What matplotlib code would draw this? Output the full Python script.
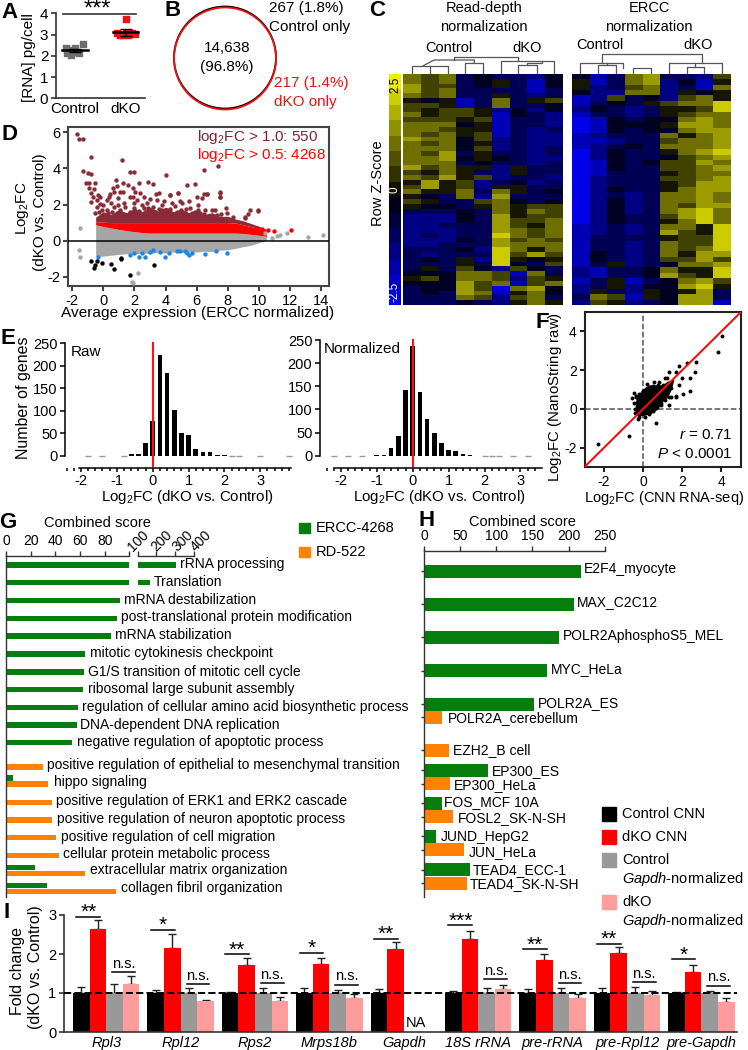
import numpy as np
import matplotlib
matplotlib.use('Agg')
import matplotlib.pyplot as plt
from matplotlib.colors import LinearSegmentedColormap
from matplotlib.patches import Circle, Rectangle
from matplotlib.ticker import MultipleLocator

plt.rcParams['font.family'] = ['Liberation Sans', 'DejaVu Sans']
plt.rcParams['mathtext.fontset'] = 'custom'
plt.rcParams['mathtext.rm'] = 'Liberation Sans'
plt.rcParams['mathtext.it'] = 'Liberation Sans:italic'
plt.rcParams['mathtext.default'] = 'regular'
plt.rcParams['font.size'] = 10.5
plt.rcParams['axes.unicode_minus'] = False

W, H = 748, 1050
GREEN = '#067d0c'
ORANGE = '#ff8205'
DARK = '#333333'

# --- A
a_ctl_x = [-.18, -.16, -.07, 0, .07, .16, -.13, -.03]
a_ctl_y = [2.35, 2.12, 2.04, 2.35, 2.12, 2.54, 2.27, 2.2]
a_dko_x = [1, .82, .89, .95, 1.05, 1.12, 1.18, 1]
a_dko_y = [3.72, 3.06, 2.98, 2.98, 2.98, 3.06, 3.03, 3.09]
a_means = [2.25, 3.1]
a_errs = [.08, .15]

# --- C heatmaps, one digit per cell: 0 = z -2.5 ... 9 = z +2.5
c_read_depth = [
    "767343324", "767345314", "866345314", "867333313", "767335323", "545137356",
    "665137334", "656652424", "756651432", "666561332", "777451332", "776551323",
    "767561322", "877462322", "767452322", "777462323", "768353323", "778454322",
    "777343323", "867552533", "657532533", "768562332", "585623423", "685625533",
    "755737534", "543728333", "653367434", "544357566", "333437576", "222438566",
    "222438667", "223338657", "222338767", "232339767", "222438676", "223338777",
    "333429757", "323339686", "343529545", "333539436", "353642643", "444776173",
    "564776265", "444867167", "344860784", "343871574", "333762673", "333432575",
]
c_ercc = [
    "413783326", "513782415", "523672317", "422772545", "126342675", "134356779",
    "243235569", "133235677", "014344787", "014445887", "014344788", "123337578",
    "112336778", "123437778", "024335789", "024334678", "014346687", "014336678",
    "013335677", "023336678", "023335688", "024335788", "023237787", "024237787",
    "024237688", "024237897", "024336897", "024335797", "123237759", "123238659",
    "133335669", "133237669", "133237679", "143237588", "143236686", "135234778",
    "213347559", "213348659", "135134786", "235244895", "253254583", "376154883",
    "265234881",
]

# --- D dense bands plus the points that stand clear of them
d_band_x = [-.5, 0, .5, 1, 1.5, 2, 2.5, 3, 3.5, 4, 4.5, 5, 5.5, 6, 6.5, 7, 7.5, 8, 8.5, 9, 9.5, 10, 10.5]
d_maroon_top = [1.3, 1.6, 1.45, 1.7, 1.55, 1.8, 1.6, 1.85, 1.65, 1.85, 1.6, 1.75, 1.55, 1.65, 1.45, 1.55, 1.35, 1.35, 1.2, 1.1, .95, .8, .62]
d_red_top = [1.05, 1.02, 1, 1, 1, 1, 1, 1, 1, 1, 1, 1, 1, 1, 1, 1, 1, 1, .98, .88, .78, .68, .5]
d_red_bot = [.88, .78, .7, .62, .55, .5, .45, .42, .42, .42, .42, .42, .42, .42, .42, .42, .42, .42, .42, .4, .35, .3, .25]
d_gray_bot = [-.85, -.85, -.8, -.75, -.72, -.72, -.68, -.7, -.65, -.68, -.62, -.65, -.6, -.62, -.58, -.6, -.52, -.5, -.42, -.33, -.25, -.12, .08]
d_maroon = [
    (-1.72, 5.88), (-1.55, 5.6), (-1.33, 5.62), (-1.33, 3.84), (-1, 3.75), (-.78, 3.7), (-.82, 4.6), (1.2, 4.47),
    (-1.14, 3.2), (-.9, 3.2), (-.56, 3.2), (-.9, 2.9), (-.82, 2.65), (-.6, 2.85), (-.65, 2.43), (-.43, 2.25),
    (-.2, 2.4), (.8, 3.38), (1.7, 3.8), (2, 3.8), (4, 3.65), (6.5, 3.9), (7.4, 4.1), (2.85, 3.25), (2.27, 3.2),
    (1.28, 3.2), (.9, 3), (1.6, 3.07), (1.9, 2.9), (.63, 2.9), (3.2, 3.12), (.4, 2.6), (5.4, 3.07), (5.9, 3.16),
    (6, 2.4), (6.5, 2.6), (6.65, 2.57), (7.5, 2.7), (7.5, 2.4), (4.8, 2.65), (4.3, 2.5), (3.4, 2.6), (2.6, 2.4),
    (1.9, 2.4), (1.07, 2.7), (-.81, 2.16), (-.42, 1.88), (-.53, 1.51), (-.1, 1.7), (0, 1.97), (.22, 2.25),
    (.48, 2.06), (.65, 1.88), (.54, 1.61), (.86, 1.51), (1.08, 1.7), (1.4, 1.88), (1.72, 2.43), (1.94, 2.06),
    (2.15, 2.25), (2.47, 1.97), (2.69, 1.61), (2.9, 1.79), (3.22, 1.88), (3.48, 2.25), (3.76, 1.97), (4.08, 1.7),
    (4.41, 2.06), (4.73, 1.61), (5.05, 2.06), (5.26, 1.51), (5.59, 1.79), (5.91, 1.61), (6.23, 1.51), (6.55, 1.7),
    (6.98, 1.7), (7.3, 1.42), (7.56, 1.48), (7.9, 1.79), (7.95, 1.51), (8.37, 1.33), (9.13, 1.24), (9.45, 1.7),
    (9.98, 1.7), (2.37, 2.62), (2.04, 2.71), (3.55, 2.62), (4.3, 2.52), (4.83, 2.62), (6.34, 2.34), (6.66, 2.58),
    (7.52, 2.62), (7.52, 2.43), (.97, 2.34), (1.29, 2.71), (.65, 2.71), (.33, 2.43), (-.32, 2.52), (1.51, 1.42),
    (1.83, 1.42), (3.12, 1.42), (3.76, 1.42), (4.3, 1.42), (4.94, 1.37), (5.59, 1.42), (6.12, 1.37), (6.77, 1.37),
    (7.09, 1.33), (0, 1.42), (.33, 1.33), (.86, 1.29), (1.29, 1.29), (2.26, 1.33), (2.69, 1.33), (3.44, 1.33),
    (1.1, 1.55), (1.7, 1.6), (2.3, 1.65), (2.6, 1.8), (3, 1.55), (3.3, 1.6), (3.6, 1.75), (4, 1.5), (4.3, 1.75),
    (4.6, 1.9), (5, 1.7), (5.3, 1.75), (5.7, 1.55), (6.1, 1.7), (6.5, 1.5), (7.2, 1.7), (1.3, 2.1), (2.8, 2.1),
    (3, 2.3), (3.9, 2.2), (4.9, 2.2), (5.5, 2.2), (6.1, 2), (.2, 1.7), (.3, 1.55), (-.2, 2.05), (-.3, 1.6),
    (.95, 2), (2, 1.8), (3.8, 1.7), (9.3, 1.47), (9.97, 1.65), (9.1, 1.3),
]
d_red = [(10.6, .59), (11, .53), (12.1, .59), (10.2, .62), (9.87, .68)]
d_gray = [(-1.5, .68), (-1.55, -.5), (-1.5, -.88), (2.25, -1.8), (1.82, -2.26), (1.93, -2.35), (11.37, .31), (11.8, .4),
          (11.15, .26), (13.2, .18), (14.16, .31), (10.83, .13), (10.4, .4)]
d_blue = [(-.32, -.88), (1.68, -.78), (1.94, -.69), (2.26, -.88), (2.47, -.69), (2.69, -.88), (3.01, -.6), (3.18, -.51),
          (3.65, -.6), (3.98, -.88), (4.19, -.66), (4.73, -.55), (4.94, -.56), (5.26, -.55), (5.37, -.69), (5.48, -.78),
          (5.69, -.69), (6.55, -.73), (7.24, -.56), (7.95, -.66)]
d_black = [(-.79, -1.1), (-.42, -1.1), (-.1, -1.24), (-.53, -1.34), (-.6, -1.52), (.48, -1.28), (.69, -1.58), (1.12, -.97),
           (1.14, -1.02), (3.27, -1.34), (1.68, -1.89)]

# --- E histograms
e_bins = [-1, -.8, -.6, -.4, -.2, 0, .2, .4, .6, .8, 1, 1.2, 1.4, 1.6, 1.8, 2]
e_raw = [0, 0, 3, 3, 29, 78, 224, 183, 102, 50, 46, 15, 8, 8, 1, 1]
e_norm = [1, 2, 16, 42, 141, 237, 138, 80, 49, 28, 12, 10, 4, 2, 0, 0]
e_raw_empty = [-1.8, -1.4, -.8, 2.2, 2.4, 3, 3.8]
e_norm_empty = [-2.2, -1.8, -1.4, 2, 2.2, 2.4, 2.8, 3.2]

# --- F scatter, central cloud as an outline
f_cloud_x = [-.38, -.32, 0, .35, 1, 1.25, 1.6, 1.45, 1.25, .95, .75, .4, -.03, -.36, -.38]
f_cloud_y = [.25, .6, 1, 1.22, 1.22, 1.4, 1.5, .95, .55, .3, -.05, -.28, -.38, -.36, -.03]
f_pts_x = [-2.33, -.71, .68, 3.84, 4.05, 2.69, 2.26, 1.84, 1.33, 1.67, 2.65, 2.38, 1.97, 2.38, 2.04, 1.7, 1.33, .9, .56, .82,
           .22, -.58, -.46, -.37, 1.84, 1.41, 1.24, 1.12, -.41, -.24, 1.33, 1.19,
           0, .2, .5, .75, 1, 1.2, 1.4, 1.7, 1.1, .9, .7, .5, .3, .1, -.2, -.4, -.45, -.35, -.2]
f_pts_y = [-1.82, -1.39, -.75, 2.91, 3.74, 2.43, 2.35, 2.21, 1.92, 1.92, 1.92, 1.58, 1.58, .94, .77, .6, .22, .22, 1.41, 1.41,
           1.29, .56, .82, .68, 1.24, 1.07, 1.58, 1.58, -.2, -.51, .61, .99,
           .9, 1.1, 1.2, 1.25, 1.25, .9, .6, .65, .45, .3, .1, -.1, -.25, -.4, -.4, 0, .3, .6, .75]

# --- G
g_terms = ['rRNA processing', 'Translation', 'mRNA destabilization', 'post-translational protein modification',
           'mRNA stabilization', 'mitotic cytokinesis checkpoint', 'G1/S transition of mitotic cell cycle',
           'ribosomal large subunit assembly', 'regulation of cellular amino acid biosynthetic process',
           'DNA-dependent DNA replication', 'negative regulation of apoptotic process',
           'positive regulation of epithelial to mesenchymal transition', 'hippo signaling',
           'positive regulation of ERK1 and ERK2 cascade', 'positive regulation of neuron apoptotic process',
           'positive regulation of cell migration', 'cellular protein metabolic process',
           'extracellular matrix organization', 'collagen fibril organization']
g_green = [304, 167, 92.5, 90.3, 84.9, 64, 63.5, 62.7, 58.1, 57.3, 53.5, 0, 5.4, 0, 0, 0, 0, 23.5, 33]
g_orange = [0, 0, 0, 0, 0, 0, 0, 0, 0, 0, 0, 29.7, 34.3, 37.6, 37.6, 40.5, 42.7, 64, 89]
g_green_y = [565, 582.7, 600.3, 618.3, 636, 654, 672, 689.7, 707.3, 725, 742.7, 0, 778, 0, 0, 0, 0, 867.7, 885.7]
g_orange_y = [0, 0, 0, 0, 0, 0, 0, 0, 0, 0, 0, 767, 784, 802.3, 820, 837.7, 855.7, 873.3, 891.7]
g_label_x = [180, 153.7, 124, 121, 115, 90, 88, 87.7, 82.3, 80, 76.7, 47.3, 53.7, 56, 57.3, 61, 62.7, 90, 121]
g_label_y = [564, 582, 600, 617.5, 635, 653.5, 672, 689.5, 707, 724.5, 742, 765, 782, 800.7, 819, 836.7, 854, 870.3, 888]

# --- H
h_terms = ['E2F4_myocyte', 'MAX_C2C12', 'POLR2AphosphoS5_MEL', 'MYC_HeLa', 'POLR2A_ES', 'POLR2A_cerebellum', 'EZH2_B cell',
           'EP300_ES', 'EP300_HeLa', 'FOS_MCF 10A', 'FOSL2_SK-N-SH', 'JUND_HepG2', 'JUN_HeLa', 'TEAD4_ECC-1', 'TEAD4_SK-N-SH']
h_scores = [216.7, 208, 187, 170, 152.6, 24.4, 35, 89, 36, 24.4, 40.6, 16.6, 55.8, 64, 60]
h_is_green = [1, 1, 1, 1, 1, 0, 0, 1, 0, 1, 0, 1, 0, 1, 0]
h_y = [571, 604.3, 637.3, 670.7, 704, 717, 750.3, 770, 783.7, 803.3, 816.7, 836.3, 849.7, 869.7, 883.3]
h_label_x = [584.3, 577.3, 563.3, 551.3, 538.3, 447.7, 453.3, 491.7, 454.3, 444.3, 457.7, 440.7, 468.3, 472.3, 470]
h_label_y = [569, 602.3, 635.7, 669, 703.3, 718.3, 750, 770.7, 785, 802.3, 817.7, 837.3, 852.3, 869.7, 884.3]

# --- I
i_genes = ['Rpl3', 'Rpl12', 'Rps2', 'Mrps18b', 'Gapdh', '18S rRNA', 'pre-rRNA', 'pre-Rpl12', 'pre-Gapdh']
i_ctl = [1, 1, 1, 1, 1, 1, 1, 1, 1]
i_ctl_err = [.16, .07, .03, .14, .09, .06, .09, .13, .03]
i_dko = [2.63, 2.16, 1.72, 1.74, 2.12, 2.38, 1.85, 2.02, 1.55]
i_dko_err = [.25, .36, .18, .16, .19, .21, .15, .17, .17]
i_gctl = [1, 1, 1, 1, 0, 1, 1, 1, 1]
i_gctl_err = [.22, .14, .14, .08, 0, .12, .14, .15, .05]
i_gdko = [1.23, .8, .8, .86, 0, 1.1, .86, .96, .77]
i_gdko_err = [.2, .03, .09, .12, 0, .1, .12, .1, .1]
i_stars = ['**', '*', '**', '*', '**', '***', '**', '**', '*']
i_star_y = [2.96, 2.62, 2.0, 2.03, 2.39, 2.74, 2.12, 2.26, 1.86]
i_ns_y = [1.53, 1.23, 1.26, 1.21, 0, 1.35, 1.25, 1.28, 1.19]

fig = plt.figure(figsize=(W / 100, H / 100), dpi=100)


def axpx(l, t, r, b):
    return fig.add_axes([l / W, 1 - b / H, (r - l) / W, (b - t) / H])


# pixel overlay for lettering and the venn
ov = fig.add_axes([0, 0, 1, 1], zorder=10)
ov.set_xlim(0, W)
ov.set_ylim(H, 0)
ov.axis('off')


def tx(x, y, s, **kw):
    kw.setdefault('ha', 'center')
    kw.setdefault('va', 'center')
    return ov.text(x, y, s, **kw)


def spines(ax, which, color=DARK, lw=1.2):
    for k, sp in ax.spines.items():
        sp.set_visible(k in which)
        sp.set_color(color)
        sp.set_linewidth(lw)
    ax.tick_params(color=color, width=lw, length=3.5, pad=2)


for x, y, s in [(10, 13, 'A'), (173, 11, 'B'), (377, 11, 'C'), (10, 135, 'D'), (8, 338, 'E'), (542, 323, 'F'),
                (8, 523, 'G'), (427, 521, 'H'), (7, 913, 'I')]:
    tx(x, y, s, fontsize=16, fontweight='bold')

# A
ax = axpx(56, 13.3, 145, 98.3)
ax.set_xlim(-.375, 1.38)
ax.set_ylim(0, 4)
spines(ax, ['left', 'bottom'])
ax.scatter(a_ctl_x, a_ctl_y, marker='s', s=17, color='#6e6e6e', zorder=2)
ax.scatter(a_dko_x, a_dko_y, marker='s', s=17, color='#ee1111', zorder=2)
for i in range(2):
    ax.plot([i - .25, i + .25], [a_means[i], a_means[i]], color='k', lw=1.8, zorder=3)
    ax.errorbar(i, a_means[i], yerr=a_errs[i], color='k', capsize=4, lw=1.2, zorder=3)
ax.set_xticks([0, 1])
ax.set_xticklabels(['Control', 'dKO'], fontsize=11)
ax.set_yticks(range(5))
ax.tick_params(axis='x', length=0, pad=3)
ax.tick_params(axis='y', labelsize=11)
ax.patch.set_alpha(0)
tx(29, 58, '[RNA] pg/cell', rotation=90, fontsize=11)
ov.plot([63, 136], [14, 14], color=DARK, lw=1.2)
tx(97, 10, '***', fontsize=17)

# B
ov.add_patch(Circle((225, 57.5), 51, fill=False, ec='k', lw=1.3))
ov.add_patch(Circle((225, 58.5), 51, fill=False, ec='#ee1111', lw=1.3))
tx(227, 48, '14,638', fontsize=11)
tx(227, 67, '(96.8%)', fontsize=11)
tx(269, 8, '267 (1.8%)', ha='left', fontsize=11)
tx(269, 27, 'Control only', ha='left', fontsize=11)
tx(274, 83, '217 (1.4%)', ha='left', color='#ee1111', fontsize=11)
tx(274, 102, 'dKO only', ha='left', color='#ee1111', fontsize=11)

# C
cmap = LinearSegmentedColormap.from_list('zscore', [(0, '#0000e8'), (.45, '#00000f'), (.5, '#111100'), (1, '#eeee00')])
for rows, l, r in [(c_read_depth, 403, 563), (c_ercc, 572, 731)]:
    ax = axpx(l, 74, r, 305)
    grid = np.array([[int(ch) for ch in row] for row in rows])
    # yellow end of the scale stays muted in the cells, only the colour bar reaches it
    ax.imshow(grid, cmap=cmap, vmin=0, vmax=9.8, aspect='auto', interpolation='nearest')
    ax.axis('off')
ax = axpx(389, 74, 401, 305)
ax.imshow(np.linspace(9, 0, 15)[:, None], cmap=cmap, vmin=0, vmax=9, aspect='auto', interpolation='nearest')
ax.axis('off')
tx(395, 85, '2.5', rotation=90, fontsize=8.5, color='k')
tx(395, 190, '0', rotation=90, fontsize=8.5, color='w')
tx(395, 292, '-2.5', rotation=90, fontsize=8.5, color='w')
tx(378, 183, 'Row Z-Score', rotation=90, fontsize=10.5)
tx(484, 8, 'Read-depth', fontsize=10.5)
tx(484, 27, 'normalization', fontsize=10.5)
tx(649, 8, 'ERCC', fontsize=10.5)
tx(649, 27, 'normalization', fontsize=10.5)
tx(449, 48, 'Control', fontsize=10.5)
tx(527, 48, 'dKO', fontsize=10.5)
tx(600, 45, 'Control', fontsize=10.5)
tx(698, 45, 'dKO', fontsize=10.5)
tree_left = [[(156, 218), (156, 197), (210, 197), (210, 218)], [(210, 197), (265, 197), (265, 218)],
             [(190, 197), (222, 180), (343, 180), (343, 188)], [(316, 218), (316, 188), (370, 188), (370, 218)],
             [(283, 180), (283, 170), (475, 170), (475, 183)], [(422, 218), (422, 183), (583, 183), (583, 218)],
             [(475, 218), (475, 195), (530, 195), (530, 218)], [(502, 195), (502, 188), (545, 188), (545, 183)]]
tree_right = [[(660, 218), (660, 188), (790, 188), (790, 203)], [(714, 218), (714, 195), (768, 195), (768, 218)],
              [(820, 218), (820, 203), (873, 203), (873, 218)], [(726, 188), (726, 162), (1025, 162), (1025, 190)],
              [(926, 218), (926, 190), (1085, 190), (1085, 218)], [(980, 218), (980, 202), (1033, 202), (1033, 218)],
              [(1005, 202), (1005, 190)], [(741, 195), (741, 188)]]
for seg in tree_left + tree_right:
    ov.plot([360 + p[0] / 3 for p in seg], [p[1] / 3 for p in seg], color='#555555', lw=.9)

# D
ax = axpx(68, 127, 329, 286)
ax.set_xlim(-2.28, 14.52)
ax.set_ylim(-2.5, 6.28)
spines(ax, ['left', 'bottom', 'right', 'top'], color='#444444', lw=1.5)
ax.fill_between(d_band_x, d_red_top, d_maroon_top, color='#8a2b38', lw=0, zorder=2)
ax.fill_between(d_band_x, d_red_bot, d_red_top, color='#ff0000', lw=0, zorder=3)
ax.fill_between(d_band_x, d_gray_bot, d_red_bot, color='#a6a6a6', lw=0, zorder=2)
for pts, col in [(d_maroon, '#8a2b38'), (d_red, '#ff0000'), (d_gray, '#a6a6a6'), (d_blue, '#1a86e8'), (d_black, 'k')]:
    ax.scatter([p[0] for p in pts], [p[1] for p in pts], s=10, color=col, lw=0, zorder=4)
ax.axhline(0, color='k', lw=1.1, zorder=5)
ax.set_xticks(range(-2, 15, 2))
ax.set_yticks([-2, 0, 2, 4, 6])
tx(197, 137, 'log$_2$FC > 1.0: 550', ha='left', color='#7c2530', fontsize=11)
tx(197, 155, 'log$_2$FC > 0.5: 4268', ha='left', color='#ff0000', fontsize=11)
tx(23, 208, 'Log$_2$FC', rotation=90, fontsize=11)
tx(40, 212, '(dKO vs. Control)', rotation=90, fontsize=11)
tx(198, 313, 'Average expression (ERCC normalized)', fontsize=11.1)


# E
def hist_panel(l, axis_r, top, px_per, zero_px, ruler_l, ruler_r, counts, empty, title, title_x, title_y):
    ax = axpx(l, top, axis_r, 455.7)
    ax.set_xlim((l - zero_px) / px_per, (axis_r - zero_px) / px_per)
    ax.set_ylim(0, 250)
    spines(ax, ['left', 'bottom'], color='k', lw=1.1)
    ax.bar(e_bins, counts, width=.13, color='k', zorder=2)
    ax.plot(empty, [0] * len(empty), ls='none', marker='_', ms=5, mew=1, color='#999999', clip_on=False)
    ax.plot([0, 0], [-23, 250], color='#ff1111', lw=1.5, clip_on=False, zorder=3)
    ax.spines['bottom'].set_position(('outward', 9))
    ax.spines['bottom'].set_bounds((ruler_l - zero_px) / px_per, (ruler_r - zero_px) / px_per)
    ax.set_xticks(range(-2, 4))
    ax.xaxis.set_minor_locator(MultipleLocator(.2))
    ax.tick_params(axis='x', which='minor', length=2.5, width=1.1)
    ax.tick_params(axis='x', which='major', length=3, pad=1, labelsize=10.5)
    ax.tick_params(axis='y', labelsize=10.5)
    ax.set_yticks(range(0, 251, 50))
    ax.patch.set_alpha(0)
    tx(title_x, title_y, title, ha='left', fontsize=11)
    tx((ruler_l + ruler_r) / 2 + 2, 497, 'Log$_2$FC (dKO vs. Control)', fontsize=10.8)
    return ax


hist_panel(65, 291, 343.3, 35.86, 152.7, 79.3, 290.7, e_raw, e_raw_empty, 'Raw', 71, 352)
hist_panel(320, 541.5, 340, 35.9, 412.7, 334, 541.5, e_norm, e_norm_empty, 'Normalized', 324, 349)
tx(24, 398, 'Number of genes', rotation=90, fontsize=11.5)

# F
ax = axpx(584.5, 312, 741, 467)
ax.set_xlim(-3, 5)
ax.set_ylim(-3, 5)
spines(ax, ['left', 'bottom', 'right', 'top'], color='#222222', lw=1.5)
ax.axhline(0, color='#555555', ls='--', lw=1.1, zorder=1)
ax.axvline(0, color='#555555', ls='--', lw=1.1, zorder=1)
ax.fill(f_cloud_x, f_cloud_y, color='k', lw=0, zorder=2)
ax.scatter(f_pts_x, f_pts_y, s=8, color='k', lw=0, zorder=2)
ax.plot([-3, 5], [-3, 5], color='#ee1111', lw=1.5, zorder=3)
ax.set_xticks([-2, 0, 2, 4])
ax.set_yticks([-2, 0, 2, 4])
ax.tick_params(labelsize=10)
tx(732, 435, '$\\mathit{r}$ = 0.71', ha='right', fontsize=11)
tx(732, 454, '$\\mathit{P}$ < 0.0001', ha='right', fontsize=11)
tx(555, 397, 'Log$_2$FC (NanoString raw)', rotation=90, fontsize=10.8)
tx(664, 498, 'Log$_2$FC (CNN RNA-seq)', fontsize=10.5)

# G, broken x axis
ax_a = axpx(6, 555.7, 129.3, 897)
ax_b = axpx(137.5, 555.7, 194.3, 897)
ax_a.set_xlim(0, 100)
ax_b.set_xlim(100, 400)
for a in (ax_a, ax_b):
    a.set_ylim(897, 555.7)
    a.patch.set_alpha(0)
    a.xaxis.tick_top()
spines(ax_a, ['left', 'top'], lw=1)
spines(ax_b, ['top'], lw=1)
for v, y in zip(g_green, g_green_y):
    if v > 0:
        ax_a.barh(y, min(v, 100), height=5.5, color=GREEN)
        if v > 100:
            ax_b.barh(y, v - 100, left=100, height=5.5, color=GREEN)
for v, y in zip(g_orange, g_orange_y):
    if v > 0:
        ax_a.barh(y, v, height=5.5, color=ORANGE)
ax_a.set_xticks(range(0, 101, 20))
ax_a.set_xticklabels(['0', '20', '40', '60', '80', ''], fontsize=10)
ax_b.set_xticks([100, 200, 300, 400])
ax_b.set_xticklabels([])
ax_a.set_yticks([])
ax_b.set_yticks([])
for x, s in [(138, '100'), (161.5, '200'), (182.5, '300'), (201.5, '400')]:
    tx(x, 541, s, rotation=45, fontsize=10)
for term, x, y in zip(g_terms, g_label_x, g_label_y):
    tx(x, y, term, ha='left', fontsize=10)
tx(97.7, 522.7, 'Combined score', fontsize=10.5)
ov.add_patch(Rectangle((299, 523), 11, 10, color=GREEN))
ov.add_patch(Rectangle((299, 546.5), 11, 10, color=ORANGE))
tx(316, 528, 'ERCC-4268', ha='left', fontsize=10.5)
tx(316, 551.7, 'RD-522', ha='left', fontsize=10.5)

# H
ax = axpx(424, 551, 604.7, 897)
ax.set_xlim(0, 250)
ax.set_ylim(897, 551)
ax.xaxis.tick_top()
spines(ax, ['left', 'top'], lw=1)
ax.barh(h_y, h_scores, height=13, color=[GREEN if g else ORANGE for g in h_is_green])
ax.set_xticks(range(0, 251, 50))
ax.set_yticks(h_y)
ax.set_yticklabels([])
ax.tick_params(axis='x', labelsize=10)
ax.tick_params(axis='y', length=2)
ax.patch.set_alpha(0)
for term, x, y in zip(h_terms, h_label_x, h_label_y):
    tx(x, y, term, ha='left', fontsize=10)
tx(522, 522.3, 'Combined score', fontsize=10.5)

# legend for I
for y, col in [(814.3, 'k'), (837.3, '#ff0000'), (859.7, '#999999'), (901.7, '#ff9d9d')]:
    ov.add_patch(Rectangle((602, y - 7), 14, 14, color=col))
tx(622, 814, 'Control CNN', ha='left', fontsize=10.5)
tx(622, 837, 'dKO CNN', ha='left', fontsize=10.5)
tx(622, 860, 'Control', ha='left', fontsize=10.5)
tx(622, 879, '$\\mathit{Gapdh}$-normalized', ha='left', fontsize=10.5)
tx(622, 902, 'dKO', ha='left', fontsize=10.5)
tx(622, 921, '$\\mathit{Gapdh}$-normalized', ha='left', fontsize=10.5)

# I
ax = axpx(64, 915, 737, 1032)
ax.set_xlim(-.567, 8.478)
ax.set_ylim(0, 3)
spines(ax, ['left', 'bottom'], lw=1.2)
xs = np.arange(len(i_genes))
bw = .2232
for off, vals, errs, col in [(-1.5, i_ctl, i_ctl_err, 'k'), (-.5, i_dko, i_dko_err, '#ff0000'),
                             (.5, i_gctl, i_gctl_err, '#999999'), (1.5, i_gdko, i_gdko_err, '#ff9d9d')]:
    ax.bar(xs + off * bw, vals, width=bw, color=col, lw=0, zorder=2)
    for x, v, e in zip(xs + off * bw, vals, errs):
        if v > 0:
            ax.errorbar(x, v, yerr=[[0], [e]], color='#222222', capsize=3, lw=1, zorder=1.5)
ax.axhline(1, color='k', ls='--', lw=1.4, zorder=4)
ax.set_xticks(xs)
ax.set_xticklabels(i_genes, fontstyle='italic', fontsize=10.5)
ax.tick_params(axis='x', length=0, pad=3)
ax.set_yticks([0, 1, 2, 3])
ax.tick_params(axis='y', labelsize=10.5)
ax.patch.set_alpha(0)
for x, s, sy, ny in zip(xs, i_stars, i_star_y, i_ns_y):
    ax.plot([x - .4, x - .08], [sy, sy], color='k', lw=1.1, clip_on=False)
    ax.annotate(s, (x - .24, sy), xytext=(0, 3), textcoords='offset points', ha='center', va='center', fontsize=15)
    if ny > 0:
        ax.plot([x + .08, x + .385], [ny, ny], color='k', lw=1.1, clip_on=False)
        ax.annotate('n.s.', (x + .23, ny), xytext=(0, 6), textcoords='offset points', ha='center', va='center', fontsize=10.5)
tx(416, 1023, 'NA', fontsize=10.5)
tx(18, 971, 'Fold change', rotation=90, fontsize=11.5)
tx(36, 967, '(dKO vs. Control)', rotation=90, fontsize=11.5)

fig.savefig('out.png', dpi=100)
